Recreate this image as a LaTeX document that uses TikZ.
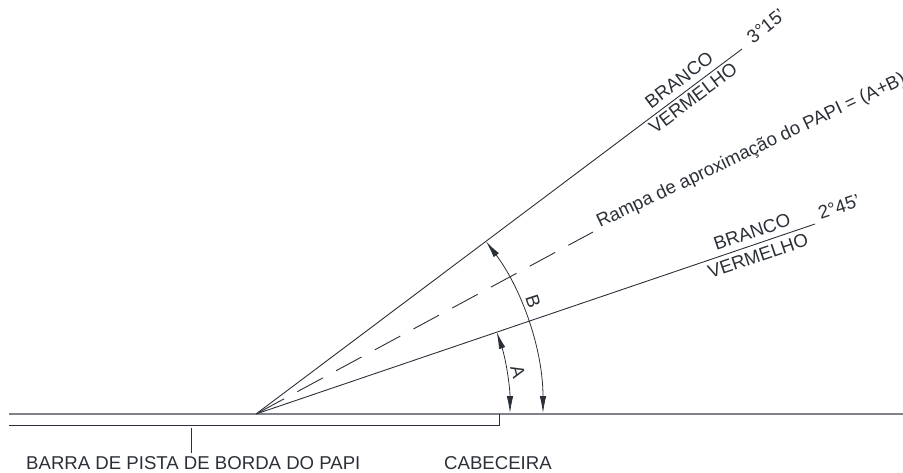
\documentclass[tikz,border=0pt]{standalone}
\usepackage{fontspec}
\setmainfont{Liberation Sans}
\usetikzlibrary{arrows.meta}
\definecolor{ink}{HTML}{2B3038}
\definecolor{rule}{HTML}{80848A}
\tikzset{
  every node/.style={text=ink,font=\fontsize{18.6}{20}\selectfont,inner sep=0pt},
  thinline/.style={draw=ink,line width=0.9pt},
  groundline/.style={draw=rule,line width=1.5pt},
  dim/.style={draw=ink,line width=0.8pt,{Latex[length=17pt,width=6.5pt]}-{Latex[length=17pt,width=6.5pt]}},
}
\begin{document}
\begin{tikzpicture}[x=1pt,y=-1pt]
\useasboundingbox (0,0) rectangle (903,473);
\coordinate (o) at (256,414);
\coordinate (hi) at (742,49);
\coordinate (lo) at (815,224);
\coordinate (ge) at (9,414);
\coordinate (gr) at (903,414);
\coordinate (ble) at (9,425);
\coordinate (bri) at (499,425);
\coordinate (bto) at (499,414);
\coordinate (lt) at (191,428);
\coordinate (lb) at (191,453);
\coordinate (da) at (593,232);
\draw[groundline] (ge) -- (gr);
\draw[thinline] (ble) -- (bri) -- (bto);
\draw[thinline] (lt) -- (lb);
\draw[thinline] (o) -- (hi);
\draw[thinline] (o) -- (lo);
\draw[thinline,dash pattern=on 29pt off 15pt,dash phase=41pt] (o) -- (da);
\draw[dim] (510,413) arc[start angle=0,end angle=-18.6,radius=254];
\draw[dim] (543,413) arc[start angle=0,end angle=-36.7,radius=287];
\node[rotate=-75] (la) at (518,372) {A};
\node[rotate=-72] (lb2) at (533,301) {B};
\node[rotate=36.9] (w1) at (679,80) {BRANCO};
\node[rotate=36.9] (v1) at (693,98) {VERMELHO};
\node[rotate=38] (t1) at (766,26) {3°15'};
\node[rotate=18.8] (w2) at (752,232) {BRANCO};
\node[rotate=18.8] (v2) at (758,256) {VERMELHO};
\node[rotate=18.8] (t2) at (839,207) {2°45'};
\node[rotate=25.3,anchor=base west] (r) at (600,228) {Rampa de aproximação do PAPI = (A+B)/};
\node[anchor=base west] (b) at (26,469) {BARRA DE PISTA DE BORDA DO PAPI};
\node[anchor=base west] (c) at (444,469) {CABECEIRA};
\end{tikzpicture}
\end{document}
